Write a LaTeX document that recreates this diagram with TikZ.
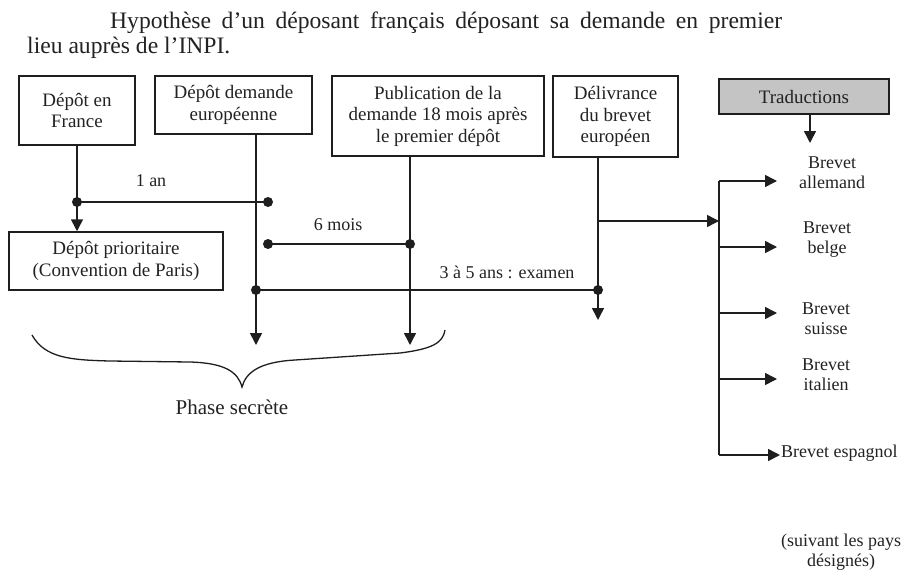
\documentclass[tikz,border=0pt]{standalone}
\usepackage{fontspec}
\setmainfont{Liberation Serif}
\usetikzlibrary{arrows.meta}
\definecolor{ink}{HTML}{1E1E1E}
\definecolor{txt}{HTML}{222222}
\definecolor{tradfill}{HTML}{C4C4C4}
\tikzset{
  box/.style={draw=ink, line width=1.5pt, align=center, inner sep=2pt, text=txt,
    font=\fontsize{19}{21.5}\selectfont},
  lab/.style={align=center, inner sep=0pt, text=txt, font=\fontsize{18}{20}\selectfont},
  conn/.style={draw=ink, line width=1.5pt},
  arr/.style={conn, -{Triangle[length=12pt,width=12pt]}},
  dot/.style={fill=ink}
}
\begin{document}
\begin{tikzpicture}[x=1pt,y=-1pt]
\useasboundingbox (0,0) rectangle (910,571);
% title
\node[anchor=base west, inner sep=0pt, text=txt, font=\fontsize{23.6}{26}\selectfont] (t1) at (110,28)
  {\makebox[672pt][s]{Hypothèse d’un déposant français déposant sa demande en premier}};
\node[anchor=base west, inner sep=0pt, text=txt, font=\fontsize{23.6}{26}\selectfont] (t2) at (27,53)
  {lieu auprès de l’INPI.};
% boxes
\node[box, minimum width=116pt, minimum height=69pt] (france) at (77,110.5) {Dépôt en\\France};
\node[box, minimum width=157pt, minimum height=58pt] (euro) at (233.5,105) {Dépôt demande\\européenne};
\node[box, minimum width=212pt, minimum height=80pt] (pub) at (438,116) {Publication de la\\demande 18 mois après\\le premier dépôt};
\node[box, minimum width=125pt, minimum height=81pt] (deliv) at (615.5,116.5) {Délivrance\\du brevet\\européen};
\node[box, fill=tradfill, minimum width=170pt, minimum height=35pt] (trad) at (804,96.5) {Traductions};
\node[box, minimum width=214pt, minimum height=58pt] (prio) at (116,261) {Dépôt prioritaire\\(Convention de Paris)};
% coordinates
\coordinate (d1a) at (77,202);
\coordinate (d1b) at (268,202);
\coordinate (d2a) at (268,244);
\coordinate (d2b) at (410,244);
\coordinate (d3a) at (256,290);
\coordinate (d3b) at (598,290);
\coordinate (endE) at (256,345);
\coordinate (endP) at (410,345);
\coordinate (endD) at (598,320);
\coordinate (j) at (598,221);
\coordinate (busT) at (719,181);
\coordinate (busB) at (719,455);
\coordinate (tt) at (810,143);
\coordinate (aA) at (777,181);
\coordinate (aB) at (777,247);
\coordinate (aS) at (777,313);
\coordinate (aI) at (777,379);
\coordinate (aE) at (780,455);
% verticals
\draw[arr] (france.south) -- (france.south |- prio.north);
\draw[arr] (euro.south -| endE) -- (endE);
\draw[arr] (pub.south -| endP) -- (endP);
\draw[arr] (deliv.south -| endD) -- (endD);
\draw[arr] (trad.south -| tt) -- (tt);
% horizontals
\draw[conn] (d1a) -- (d1b);
\draw[conn] (d2a) -- (d2b);
\draw[conn] (d3a) -- (d3b);
\draw[arr] (j) -- (j -| busT);
\draw[conn] (busT) -- (busB);
\draw[arr] (busT) -- (aA);
\draw[arr] (busT |- aB) -- (aB);
\draw[arr] (busT |- aS) -- (aS);
\draw[arr] (busT |- aI) -- (aI);
\draw[arr] (busB) -- (aE);
% dots
\foreach \p in {d1a,d1b,d2a,d2b,d3a,d3b} \fill[dot] (\p) circle (5pt);
% labels
\node[lab] (l1) at (151,181) {1 an};
\node[lab] (l2) at (338,225) {6 mois};
\node[lab] (l3) at (507,272) {3 à 5 ans : examen};
\node[lab] (ball) at (832,173) {Brevet\\allemand};
\node[lab] (bbel) at (827,240) {Brevet\\belge};
\node[lab] (bsui) at (826,319) {Brevet\\suisse};
\node[lab] (bita) at (826,375) {Brevet\\italien};
\node[lab, anchor=west] (besp) at (781,453) {Brevet espagnol};
\node[lab] (note) at (841,552) {(suivant les pays\\désignés)};
% brace
\draw[conn, line width=1.3pt] (32,335) .. controls (45,358) and (70,360) .. (110,361)
  -- (190,362) .. controls (225,363) and (238,372) .. (242,387)
  .. controls (246,372) and (260,362) .. (295,360)
  -- (400,353) .. controls (432,349) and (443,343) .. (445,330);
\node[lab, font=\fontsize{21}{24}\selectfont] (phase) at (232,407) {Phase secrète};
\end{tikzpicture}
\end{document}
